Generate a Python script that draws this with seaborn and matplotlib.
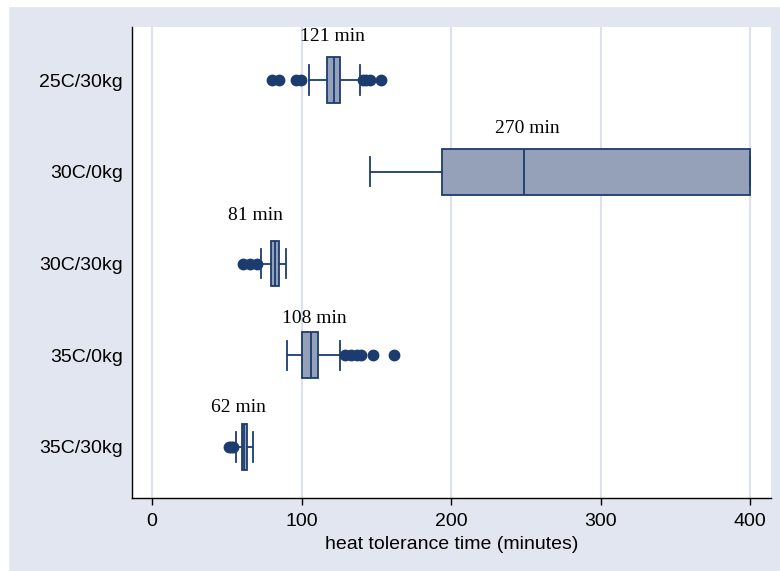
import numpy as np
import pandas as pd
import matplotlib
matplotlib.use("Agg")
import matplotlib.pyplot as plt
import seaborn as sns
from matplotlib.patches import Rectangle

# heat tolerance times (minutes) per condition
conditions = ["25C/30kg", "30C/0kg", "30C/30kg", "35C/0kg", "35C/30kg"]
t_25c_30kg = [80, 85, 96, 99.5, 105, 117, 118, 119, 120, 121, 122, 123, 124, 125, 125.5,
              126, 139, 141, 143, 146, 153]
t_30c_0kg = [146, 160, 172, 181, 188, 194, 205, 215, 228, 240, 249, 262, 290, 330, 380,
             400, 400, 400, 400, 400, 400]
t_30c_30kg = [61, 65.5, 70.5, 73, 76, 79.5, 80, 80.5, 81, 81.5, 82.3, 83, 83.5, 84, 84.5,
              85, 86, 87, 88, 89, 89.6]
t_35c_0kg = [90.5, 92, 94, 95, 96.5, 98, 99, 100, 101, 102, 103, 104, 104.5, 105, 106,
             107, 107.5, 108, 109, 110, 110.5, 111, 126, 129, 133, 137, 140, 148, 162]
t_35c_30kg = [51.5, 53, 54.3, 56, 58, 60, 60.3, 60.7, 61, 61.3, 61.7, 62, 62.5, 63, 63.3,
              63.7, 64.5, 65, 66, 67, 67.4]

mean_labels = ["121 min", "270 min", "81 min", "108 min", "62 min"]
# where the labels sit (x in minutes, y on the category axis)
label_x = [120.9, 250.8, 69.4, 108.8, 57.7]
label_y = [-0.42, 0.58, 1.53, 2.65, 3.62]

groups = [t_25c_30kg, t_30c_0kg, t_30c_30kg, t_35c_0kg, t_35c_30kg]
df = pd.concat([pd.DataFrame({"condition": c, "minutes": g}) for c, g in zip(conditions, groups)],
               ignore_index=True)

bg = "#E2E6F0"
navy = "#1C3C70"
box_fill = "#95A1B9"
grid_c = "#DDE0EF"

plt.rcParams["font.family"] = ["Liberation Sans", "DejaVu Sans"]

fig = plt.figure(figsize=(7.8, 5.71), dpi=100)
fig.patch.set_facecolor(bg)
fig.add_artist(Rectangle((0, 1 - 6 / 571), 1, 6 / 571, transform=fig.transFigure,
                         color="white", zorder=-1))
fig.add_artist(Rectangle((0, 0), 8 / 780, 1, transform=fig.transFigure,
                         color="white", zorder=-1))

ax = fig.add_axes([132 / 780, 1 - 498 / 571, (771 - 132) / 780, (498 - 27) / 571])
ax.set_facecolor("white")

sns.boxplot(data=df, x="minutes", y="condition", order=conditions, orient="h",
            width=0.5, color=box_fill, saturation=1, linecolor=navy, linewidth=1.3,
            whis=1.5, capwidths=0.32,
            flierprops=dict(marker="o", markerfacecolor=navy, markeredgecolor=navy,
                            markersize=7.5),
            ax=ax)

for lab, x, y in zip(mean_labels, label_x, label_y):
    ax.text(x, y, lab, ha="center", va="baseline", fontsize=14,
            fontfamily=["Liberation Serif", "DejaVu Serif"])

ax.set_xlim(-13.4, 414)
ax.set_ylim(4.556, -0.578)
ax.set_xticks([0, 100, 200, 300, 400])
ax.set_axisbelow(True)
ax.xaxis.grid(True, color=grid_c, linewidth=1.5)
ax.yaxis.grid(False)
for s in ["top", "right"]:
    ax.spines[s].set_visible(False)
for s in ["left", "bottom"]:
    ax.spines[s].set_color("black")
    ax.spines[s].set_linewidth(1)
ax.tick_params(axis="x", length=5, width=1, pad=6, labelsize=14, colors="black")
ax.tick_params(axis="y", length=0, pad=6.5, labelsize=14)
ax.set_ylabel("")
ax.set_xlabel("heat tolerance time (minutes)", fontsize=14, labelpad=4)

fig.savefig("out.png", dpi=100, facecolor=fig.get_facecolor())
